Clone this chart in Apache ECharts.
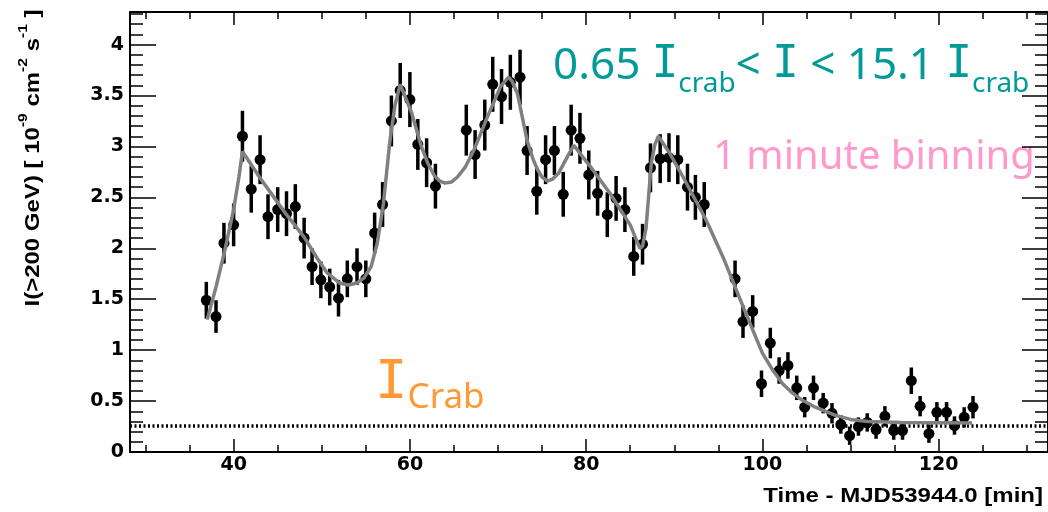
<!DOCTYPE html>
<html><head><meta charset="utf-8">
<script src="https://cdn.jsdelivr.net/npm/echarts@6/dist/echarts.min.js"></script>
<style>html,body{margin:0;padding:0;background:#fff}#c{width:1048px;height:512px}</style>
</head><body><div id="c"></div>
<script>
// ---- data ----
const times = [36.9, 38.0, 38.9, 40.0, 41.0, 42.0, 43.0, 43.9, 45.0, 46.0, 47.0, 48.0, 48.9, 49.9, 50.9, 51.9, 52.9, 54.0, 55.0, 56.0, 56.9, 57.9, 58.9, 60.0, 60.9, 61.9, 62.9,
  66.4, 67.4, 68.5, 69.4, 70.4, 71.4, 72.5, 73.3, 74.4, 75.4, 76.4, 77.4, 78.3, 79.3, 80.3, 81.3, 82.4, 83.4, 84.4, 85.4, 86.4, 87.3, 88.4, 89.4, 90.4, 91.5, 92.4, 93.4,
  96.9, 97.8, 98.9, 99.9, 100.9, 101.9, 102.9, 103.9, 104.8, 105.8, 106.9, 107.9, 108.9, 109.9, 110.9, 111.9, 112.9, 113.9, 114.9, 115.9, 116.9, 117.9, 118.9, 119.8, 120.9, 121.8, 122.9, 123.9];
const flux = [1.49, 1.33, 2.05, 2.23, 3.10, 2.58, 2.87, 2.31, 2.38, 2.34, 2.41, 2.10, 1.82, 1.69, 1.62, 1.51, 1.70, 1.82, 1.70, 2.15, 2.43, 3.25, 3.55, 3.46, 3.02, 2.84, 2.61,
  3.16, 2.92, 3.21, 3.61, 3.49, 3.63, 3.68, 2.96, 2.56, 2.87, 2.96, 2.53, 3.16, 3.08, 2.72, 2.54, 2.33, 2.49, 2.38, 1.92, 2.04, 2.79, 2.88, 2.89, 2.87, 2.60, 2.50, 2.43,
  1.70, 1.28, 1.38, 0.67, 1.07, 0.80, 0.85, 0.63, 0.44, 0.63, 0.48, 0.38, 0.27, 0.16, 0.25, 0.29, 0.22, 0.35, 0.21, 0.21, 0.70, 0.45, 0.18, 0.39, 0.39, 0.26, 0.34, 0.44];
const fluxErr = [0.18, 0.16, 0.20, 0.21, 0.25, 0.23, 0.24, 0.22, 0.22, 0.22, 0.22, 0.20, 0.18, 0.18, 0.18, 0.18, 0.18, 0.18, 0.18, 0.20, 0.22, 0.25, 0.27, 0.27, 0.25, 0.24, 0.22,
  0.25, 0.24, 0.25, 0.27, 0.27, 0.27, 0.27, 0.24, 0.23, 0.24, 0.24, 0.22, 0.25, 0.25, 0.24, 0.22, 0.22, 0.22, 0.22, 0.19, 0.20, 0.24, 0.24, 0.24, 0.24, 0.23, 0.22, 0.22,
  0.18, 0.16, 0.16, 0.13, 0.15, 0.13, 0.13, 0.12, 0.10, 0.12, 0.10, 0.10, 0.09, 0.09, 0.09, 0.09, 0.09, 0.10, 0.09, 0.09, 0.13, 0.10, 0.09, 0.10, 0.10, 0.09, 0.10, 0.11];
const fitTimes = [37.0, 38.0, 39.0, 40.0, 40.6, 41.0, 42.0, 43.0, 44.5, 46.0, 48.0, 49.5, 50.6, 52.0, 53.0, 54.0, 54.8, 55.6, 56.3, 57.0, 57.7, 58.3, 58.9, 59.5, 60.2, 61.3, 62.0, 62.8,
  63.4, 64.0, 64.7, 65.4, 66.3, 67.3, 68.8, 70.3, 71.2, 71.6, 72.2, 73.3, 74.0, 74.5, 75.0, 75.6, 76.2, 76.9, 78.0, 78.6, 79.5, 80.5, 82.7, 85.0, 86.1, 86.4, 86.8, 87.4, 87.8, 88.2, 89.5, 91.0,
  93.6, 95.5, 97.8, 100.0, 101.2, 102.3, 103.4, 104.5, 106.0, 108.3, 110.0, 112.0, 115.8, 123.8];
const fitFlux = [1.30, 1.62, 1.98, 2.38, 2.70, 2.95, 2.82, 2.69, 2.51, 2.33, 2.11, 1.90, 1.76, 1.66, 1.64, 1.66, 1.71, 1.82, 2.05, 2.44, 3.03, 3.40, 3.61, 3.48, 3.33, 3.00, 2.84, 2.71,
  2.66, 2.64, 2.65, 2.70, 2.80, 2.97, 3.29, 3.59, 3.68, 3.64, 3.52, 3.06, 2.87, 2.77, 2.70, 2.66, 2.68, 2.74, 2.92, 3.01, 2.91, 2.80, 2.54, 2.23, 2.00, 2.02, 2.20, 2.84, 3.02, 3.10, 2.93, 2.70,
  2.28, 1.92, 1.43, 0.97, 0.80, 0.67, 0.58, 0.51, 0.44, 0.36, 0.32, 0.30, 0.29, 0.285];
const crabLevel = 0.26;
const xMajorTicks = [40, 60, 80, 100, 120];
const xMinorTicks = [30, 35, 45, 50, 55, 65, 70, 75, 85, 90, 95, 105, 110, 115, 125, 130];
const yMajorTicks = [0, 0.5, 1, 1.5, 2, 2.5, 3, 3.5, 4];
const yMinorTicks = [0.1, 0.2, 0.3, 0.4, 0.6, 0.7, 0.8, 0.9, 1.1, 1.2, 1.3, 1.4, 1.6, 1.7, 1.8, 1.9, 2.1, 2.2, 2.3, 2.4,
  2.6, 2.7, 2.8, 2.9, 3.1, 3.2, 3.3, 3.4, 3.6, 3.7, 3.8, 3.9, 4.1, 4.2, 4.3];
const xTitle = 'Time - MJD53944.0 [min]';

// ---- chart ----
const X_MIN = 28.24, X_MAX = 132.41, Y_MIN = 0, Y_MAX = 4.32;
const AX = {color: '#000', width: 2};
function xAx(pos, ticks, len, isMain) {
  return {
    type: 'value', position: pos, min: X_MIN, max: X_MAX, gridIndex: 0,
    axisLine: {show: isMain, onZero: false, lineStyle: AX},
    axisTick: {show: true, inside: true, length: len, customValues: ticks, lineStyle: {color: '#000', width: 1.5}},
    axisLabel: (isMain && pos === 'bottom') ? {show: true, customValues: xMajorTicks, margin: 4,
      fontFamily: 'DejaVu Sans', fontWeight: 'bold', fontSize: 19, color: '#000'} : {show: false},
    splitLine: {show: false}
  };
}
function yAx(pos, ticks, len, isMain) {
  return {
    type: 'value', position: pos, min: Y_MIN, max: Y_MAX, gridIndex: 0,
    axisLine: {show: isMain, onZero: false, lineStyle: AX},
    axisTick: {show: true, inside: true, length: len, customValues: ticks, lineStyle: {color: '#000', width: 1.5}},
    axisLabel: (isMain && pos === 'left') ? {show: true, customValues: yMajorTicks, margin: 6,
      fontFamily: 'DejaVu Sans', fontWeight: 'bold', fontSize: 19, color: '#000'} : {show: false},
    splitLine: {show: false}
  };
}
const chart = echarts.init(document.getElementById('c'), null, {renderer: 'canvas'});
chart.setOption({
  animation: false,
  backgroundColor: '#fff',
  grid: {left: 130, top: 12, right: -6, bottom: 60, containLabel: false},
  xAxis: [xAx('bottom', xMajorTicks, 13, true), xAx('bottom', xMinorTicks, 7, false),
          xAx('top', xMajorTicks, 13, true), xAx('top', xMinorTicks, 7, false)],
  yAxis: [yAx('left', yMajorTicks, 26, true), yAx('left', yMinorTicks, 13, false),
          yAx('right', yMajorTicks, 26, true), yAx('right', yMinorTicks, 13, false)],
  series: [
    {
      type: 'custom', xAxisIndex: 0, yAxisIndex: 0, silent: true, z: 3,
      data: times.map((t, i) => [t, flux[i], fluxErr[i]]),
      encode: {x: 0, y: 1},
      renderItem: function (params, api) {
        const x = api.value(0), y = api.value(1), e = api.value(2);
        const p1 = api.coord([x, y + e]), p2 = api.coord([x, y - e]);
        return {type: 'line', shape: {x1: p1[0], y1: p1[1], x2: p2[0], y2: p2[1]},
          style: {stroke: '#000', lineWidth: 3.5}};
      },
      markLine: {
        silent: true, symbol: ['none', 'none'], label: {show: false},
        lineStyle: {color: '#000', width: 3.5, type: [2, 2.5], opacity: 1},
        data: [{yAxis: crabLevel}]
      }
    },
    {
      type: 'scatter', xAxisIndex: 0, yAxisIndex: 0, silent: true, z: 4,
      symbol: 'circle', symbolSize: 11, itemStyle: {color: '#000', opacity: 1},
      data: times.map((t, i) => [t, flux[i]])
    },
    {
      type: 'line', xAxisIndex: 0, yAxisIndex: 0, silent: true, z: 5,
      symbol: 'none', smooth: false,
      lineStyle: {color: '#808080', width: 3.5},
      data: fitTimes.map((t, i) => [t, fitFlux[i]])
    }
  ],
  graphic: [
    {
      type: 'text', x: 30, y: 158, rotation: Math.PI / 2, scaleX: 1.2, scaleY: 1,
      style: {
        text: '{m|I(>200 GeV) [ 10}{s|-9}{m| cm}{s|-2}{m| s}{s|-1}{m| ]}',
        align: 'center', verticalAlign: 'middle', textAlign: 'center', textVerticalAlign: 'middle',
        rich: {
          m: {fontFamily: 'Liberation Sans', fontWeight: 'bold', fontSize: 20, fill: '#000', lineHeight: 26, verticalAlign: 'bottom'},
          s: {fontFamily: 'Liberation Sans', fontWeight: 'bold', fontSize: 13, fill: '#000', lineHeight: 13, verticalAlign: 'top'}
        }
      }
    },
    {
      type: 'text', x: 1043, y: 496, scaleX: 1.2,
      style: {
        text: xTitle, fill: '#000', font: 'bold 20px "Liberation Sans"',
        align: 'right', verticalAlign: 'middle', textAlign: 'right', textVerticalAlign: 'middle'
      }
    },
    {
      type: 'text', x: 553, y: 66,
      style: {
        text: '{a|0.65 }{i|I}{b|crab}{a|< }{i|I}{a| < 15.1 }{i|I}{b|crab}',
        align: 'left', verticalAlign: 'middle', textAlign: 'left', textVerticalAlign: 'middle',
        rich: {
          a: {fontFamily: 'Noto Sans', fontSize: 44, fill: '#009b98', lineHeight: 64, verticalAlign: 'middle'},
          i: {fontFamily: 'DejaVu Sans Mono', fontSize: 44, fill: '#009b98', lineHeight: 64, verticalAlign: 'middle'},
          b: {fontFamily: 'Noto Sans', fontSize: 28, fill: '#009b98', lineHeight: 28, verticalAlign: 'bottom'}
        }
      }
    },
    {
      type: 'text', x: 713, y: 158,
      style: {
        text: '1 minute binning', fill: '#ff99cc', font: '40px "Noto Sans"',
        align: 'left', verticalAlign: 'middle', textAlign: 'left', textVerticalAlign: 'middle'
      }
    },
    {
      type: 'text', x: 375, y: 384,
      style: {
        text: '{i|I}{b|Crab}',
        align: 'left', verticalAlign: 'middle', textAlign: 'left', textVerticalAlign: 'middle',
        rich: {
          i: {fontFamily: 'DejaVu Sans Mono', fontSize: 54, fill: '#ff9933', lineHeight: 64, verticalAlign: 'middle'},
          b: {fontFamily: 'Noto Sans', fontSize: 35, fill: '#ff9933', lineHeight: 35, verticalAlign: 'bottom'}
        }
      }
    }
  ]
});
</script>
</body></html>
